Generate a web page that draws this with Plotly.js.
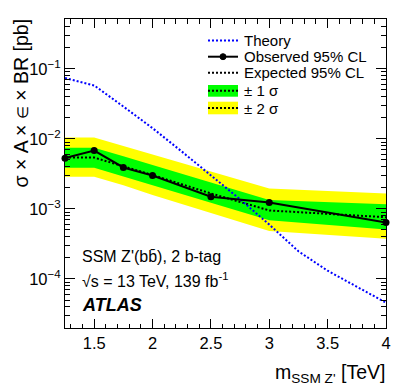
<!DOCTYPE html>
<html>
<head>
<meta charset="utf-8">
<script src="https://cdn.plot.ly/plotly-3.0.1.min.js"></script>
<style>html,body{margin:0;padding:0;background:#fff;}</style>
</head>
<body>
<div id="plot" style="width:407px;height:391px;"></div>
<script>
// ---- data ----
const theoryMass = [1.25, 1.5, 1.75, 2, 2.25, 2.5, 2.75, 3, 3.25, 3.5, 3.75, 4];
const theoryXsec = [0.0736, 0.0578, 0.0289, 0.0142, 0.0066, 0.0030, 0.00137, 0.000597, 0.000248, 0.000131, 0.0000784, 0.0000458];

const mass = [1.25, 1.5, 1.75, 2, 2.5, 3, 4];
const observed = [0.0053, 0.0068, 0.0039, 0.0030, 0.00149, 0.00123, 0.00064];
const expected = [0.0054, 0.0054, 0.00405, 0.00304, 0.00166, 0.00095, 0.00076];
const plus1 = [0.00748, 0.00748, 0.00562, 0.00422, 0.00239, 0.00134, 0.00116];
const minus1 = [0.00388, 0.00388, 0.00291, 0.00219, 0.00124, 0.000686, 0.000509];
const plus2 = [0.0104, 0.0104, 0.00792, 0.00601, 0.00344, 0.00196, 0.00166];
const minus2 = [0.00288, 0.00288, 0.00217, 0.00158, 0.000877, 0.000482, 0.000375];

const yTickVals = [1e-4, 1e-3, 1e-2, 1e-1];
const yTickText = ['10<sup>\u22124</sup>', '10<sup>\u22123</sup>', '10<sup>\u22122</sup>', '10<sup>\u22121</sup>'];
const xTickVals = [1.5, 2, 2.5, 3, 3.5, 4];
const xTickText = ['1.5', '2', '2.5', '3', '3.5', '4'];

const legendLabels = ['Theory', 'Observed 95% CL', 'Expected 95% CL', '\u00b1 1 \u03c3', '\u00b1 2 \u03c3'];

// ---- layout geometry ----
const W = 407, H = 391;
const M = {l: 65, r: 21, t: 19, b: 63};
const PW = W - M.l - M.r, PH = H - M.t - M.b;
const px = x => (x - M.l) / PW;
const py = y => (H - M.b - y) / PH;

const FONT = 'Liberation Sans, Arial, Helvetica, sans-serif';
const YELLOW = '#ffff00', GREEN = '#00ff00', BLUE = '#0000ff';

const traces = [
  {x: mass, y: minus2, mode: 'lines', line: {width: 0, color: YELLOW}, hoverinfo: 'skip', showlegend: false},
  {x: mass, y: plus2, mode: 'lines', fill: 'tonexty', fillcolor: YELLOW, line: {width: 0, color: YELLOW}, showlegend: false},
  {x: mass, y: minus1, mode: 'lines', line: {width: 0, color: GREEN}, showlegend: false},
  {x: mass, y: plus1, mode: 'lines', fill: 'tonexty', fillcolor: GREEN, line: {width: 0, color: GREEN}, showlegend: false},
  {x: mass, y: expected, mode: 'lines', line: {color: '#000', width: 2, dash: '2px,2px'}, showlegend: false},
  {x: theoryMass, y: theoryXsec, mode: 'lines', line: {color: BLUE, width: 2, dash: '2px,2px'}, showlegend: false},
  {x: mass, y: observed, mode: 'lines+markers', line: {color: '#000', width: 2},
   marker: {color: '#000', size: 7, symbol: 'circle'}, cliponaxis: false, showlegend: false}
];

// manual legend
const lx0 = 208, lx1 = 238, ltx = 243;
const rows = [40.5, 56.7, 72.7, 90.8, 108];
const shapes = [
  {type: 'line', xref: 'paper', yref: 'paper', x0: px(lx0), x1: px(lx1), y0: py(rows[0]), y1: py(rows[0]), line: {color: BLUE, width: 2, dash: '2px,2px'}},
  {type: 'line', xref: 'paper', yref: 'paper', x0: px(lx0), x1: px(lx1), y0: py(rows[1]), y1: py(rows[1]), line: {color: '#000', width: 2}},
  {type: 'circle', xref: 'paper', yref: 'paper', x0: px(220), x1: px(226), y0: py(rows[1] - 3), y1: py(rows[1] + 3), fillcolor: '#000', line: {color: '#000', width: 1}},
  {type: 'line', xref: 'paper', yref: 'paper', x0: px(lx0), x1: px(lx1), y0: py(rows[2]), y1: py(rows[2]), line: {color: '#000', width: 2, dash: '2px,2px'}},
  {type: 'rect', xref: 'paper', yref: 'paper', x0: px(lx0), x1: px(lx1), y0: py(85), y1: py(96.7), fillcolor: GREEN, line: {width: 0}},
  {type: 'line', xref: 'paper', yref: 'paper', x0: px(lx0), x1: px(lx1), y0: py(rows[3]), y1: py(rows[3]), line: {color: '#000', width: 2, dash: '2px,2px'}},
  {type: 'rect', xref: 'paper', yref: 'paper', x0: px(lx0), x1: px(lx1), y0: py(101.7), y1: py(114.3), fillcolor: YELLOW, line: {width: 0}},
  {type: 'line', xref: 'paper', yref: 'paper', x0: px(lx0), x1: px(lx1), y0: py(rows[4]), y1: py(rows[4]), line: {color: '#000', width: 2, dash: '2px,2px'}}
];

const annotations = legendLabels.map((t, i) => ({
  text: t, xref: 'paper', yref: 'paper', x: px(ltx), y: py(rows[i]), xanchor: 'left', yanchor: 'middle',
  showarrow: false, borderpad: 0, font: {family: FONT, size: 15, color: '#000'}
}));

annotations.push(
  {text: 'SSM Z\'(b\u0062\u0304), 2 b-tag', xref: 'paper', yref: 'paper', x: px(81), y: py(256.7), xanchor: 'left', yanchor: 'middle', showarrow: false, borderpad: 0, font: {family: FONT, size: 16, color: '#000'}},
  {text: '\u221as = 13 TeV, 139 fb<sup>-1</sup>', xref: 'paper', yref: 'paper', x: px(81), y: py(280), xanchor: 'left', yanchor: 'middle', showarrow: false, borderpad: 0, font: {family: FONT, size: 16, color: '#000'}},
  {text: '<b><i>ATLAS</i></b>', xref: 'paper', yref: 'paper', x: px(81), y: py(305), xanchor: 'left', yanchor: 'middle', showarrow: false, borderpad: 0, font: {family: FONT, size: 18, color: '#000'}},
  {text: '\u03c3 \u00d7 A \u00d7 <span style="font-size:15px">\u2208</span> \u00d7 BR [pb]', xref: 'paper', yref: 'paper', x: px(21), y: 1.003, xanchor: 'center', yanchor: 'top', textangle: -90, showarrow: false, borderpad: 0, font: {family: FONT, size: 19.5, color: '#000'}},
  {text: 'm<sub>SSM Z\'</sub> [TeV]', xref: 'paper', yref: 'paper', x: 1, y: py(373), xanchor: 'right', yanchor: 'middle', showarrow: false, borderpad: 0, font: {family: FONT, size: 19.5, color: '#000'}}
);

const yMinor = [];
for (let e = -5; e <= -1; e++) for (let d = 2; d <= 9; d++) yMinor.push(d * Math.pow(10, e));

const layout = {
  width: W, height: H, margin: M,
  paper_bgcolor: '#fff', plot_bgcolor: '#fff',
  font: {family: FONT, color: '#000'},
  showlegend: false,
  xaxis: {
    range: [1.25, 4], showgrid: false, zeroline: false,
    showline: true, linecolor: '#000', linewidth: 1, mirror: 'allticks',
    ticks: 'inside', ticklen: 9, tickwidth: 1, tickcolor: '#000',
    tickmode: 'array', tickvals: xTickVals, ticktext: xTickText,
    tickfont: {family: FONT, size: 16.5, color: '#000'},
    minor: {ticks: 'inside', ticklen: 4.5, tickwidth: 1, tickcolor: '#000', dtick: 0.1, tick0: 1.0, showgrid: false}
  },
  yaxis: {
    type: 'log', range: [-4.7, -0.29], showgrid: false, zeroline: false,
    showline: true, linecolor: '#000', linewidth: 1, mirror: 'allticks',
    ticks: 'inside', ticklen: 10, tickwidth: 1, tickcolor: '#000',
    tickmode: 'array', tickvals: yTickVals, ticktext: yTickText,
    tickfont: {family: FONT, size: 16.5, color: '#000'},
    minor: {ticks: 'inside', ticklen: 5, tickwidth: 1, tickcolor: '#000', tickmode: 'array', tickvals: yMinor, showgrid: false}
  },
  shapes: shapes,
  annotations: annotations
};

Plotly.newPlot('plot', traces, layout, {displayModeBar: false, staticPlot: true});
</script>
</body>
</html>
